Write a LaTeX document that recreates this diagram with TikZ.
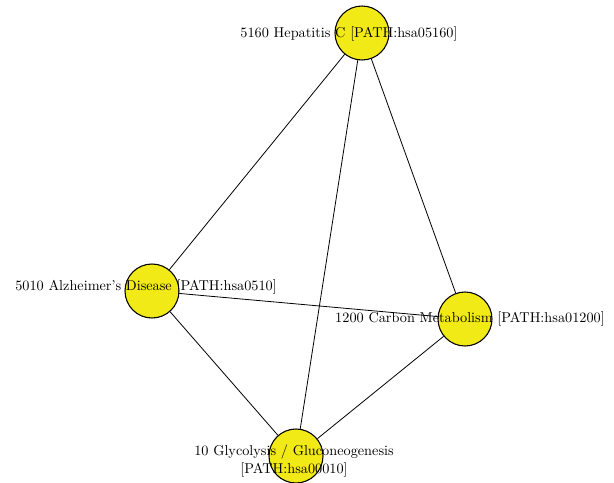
\documentclass[tikz,border=0pt]{standalone}
\usepackage{tikz}
\usetikzlibrary{positioning}

\definecolor{pathyellow}{RGB}{242,234,22}

\begin{document}
\begin{tikzpicture}
        [
            x=0.75pt, y=-0.75pt,
            pathway/.style={circle,draw=black,line width=0.8pt,fill=pathyellow,minimum size=40.5pt,inner sep=0pt},
            link/.style={draw=black,line width=0.6pt},
            lbl/.style={font=\fontsize{10.7}{13.5}\selectfont,inner sep=0pt,align=center},
        ]
    \useasboundingbox (0,0) rectangle (614,482);

    \node[pathway] (hep) at (362,33) {};
    \node[pathway] (alz) at (152,291) {};
    \node[pathway] (carb) at (465,319) {};
    \node[pathway] (gly) at (296,456) {};

    \draw[link] (hep) -- (alz);
    \draw[link] (hep) -- (carb);
    \draw[link] (hep) -- (gly);
    \draw[link] (alz) -- (carb);
    \draw[link] (alz) -- (gly);
    \draw[link] (carb) -- (gly);

    \node[lbl] (hepl) at (349,34) {5160 Hepatitis C [PATH:hsa05160]};
    \node[lbl] (alzl) at (146,287) {5010 Alzheimer's Disease [PATH:hsa0510]};
    \node[lbl] (carbl) at (470,319) {1200 Carbon Metabolism [PATH:hsa01200]};
    \node[lbl] (glyl) at (294,461) {10 Glycolysis / Gluconeogenesis\\ {[PATH:hsa00010]}};
    \end{tikzpicture}
\end{document}
